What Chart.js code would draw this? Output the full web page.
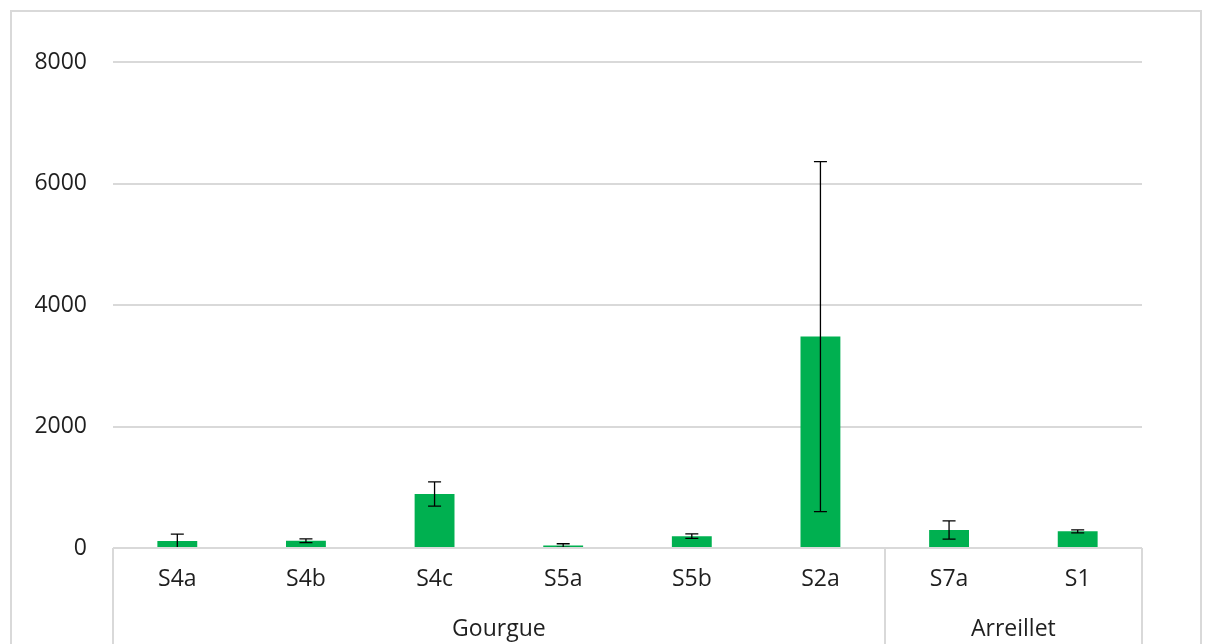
<!DOCTYPE html>
<html>
<head>
<meta charset="utf-8">
<script src="https://cdn.jsdelivr.net/npm/chart.js@4/dist/chart.umd.min.js"></script>
<style>
  html, body { margin:0; padding:0; background:#fff; overflow:hidden; }
  #wrap { position:relative; width:1205px; height:644px; }
  #frame { position:absolute; left:10px; top:10px; width:1192px; height:700px; border:2px solid #d9d9d9; box-sizing:border-box; }
  canvas { position:absolute; left:0; top:0; }
</style>
</head>
<body>
<div id="wrap">
  <div id="frame"></div>
  <canvas id="c" width="1205" height="644"></canvas>
</div>
<script>
const categories = ['S4a','S4b','S4c','S5a','S5b','S2a','S7a','S1'];
const groupNames = ['Gourgue','Arreillet'];
const groupSizes = [6, 2];
const values = [115, 120, 890, 40, 195, 3480, 295, 275];
const errors = [115, 30, 200, 30, 38, 2880, 150, 25];
const yTicks = [0, 2000, 4000, 6000, 8000];

const FONT = '"Open Sans", sans-serif';
const FSIZE = 23;
const TEXT = '#1f1f1f';
const GRID = '#d9d9d9';

const errorBars = {
  id: 'errorBars',
  afterDatasetsDraw(chart) {
    const ctx = chart.ctx, xs = chart.scales.x, ys = chart.scales.y;
    ctx.save();
    ctx.strokeStyle = '#000';
    ctx.lineWidth = 1.3;
    values.forEach((v, i) => {
      const x = xs.getPixelForValue(i);
      const yTop = ys.getPixelForValue(v + errors[i]);
      const yBot = ys.getPixelForValue(Math.max(v - errors[i], 0));
      ctx.beginPath();
      ctx.moveTo(x, yTop); ctx.lineTo(x, yBot);
      ctx.moveTo(x - 6.5, yTop); ctx.lineTo(x + 6.5, yTop);
      if (v - errors[i] > 0) { ctx.moveTo(x - 6.5, yBot); ctx.lineTo(x + 6.5, yBot); }
      ctx.stroke();
    });
    ctx.restore();
  }
};

const groupAxis = {
  id: 'groupAxis',
  afterDraw(chart) {
    const ctx = chart.ctx, xs = chart.scales.x, area = chart.chartArea;
    const bottom = chart.height + 5;
    ctx.save();
    ctx.strokeStyle = GRID;
    ctx.lineWidth = 2;
    let start = 0;
    const bounds = [area.left];
    groupSizes.forEach((n, g) => {
      const end = start + n - 1;
      const right = end < categories.length - 1
        ? (xs.getPixelForValue(end) + xs.getPixelForValue(end + 1)) / 2
        : area.right;
      bounds.push(right);
      const cx = (xs.getPixelForValue(start) + xs.getPixelForValue(end)) / 2;
      ctx.fillStyle = TEXT;
      ctx.font = FSIZE + 'px ' + FONT;
      ctx.textAlign = 'center';
      ctx.textBaseline = 'middle';
      ctx.fillText(groupNames[g], cx, 629);
      start += n;
    });
    bounds.forEach(b => {
      const x = Math.round(b);
      ctx.beginPath();
      ctx.moveTo(x, area.bottom);
      ctx.lineTo(x, bottom);
      ctx.stroke();
    });
    ctx.beginPath();
    ctx.moveTo(area.left, Math.round(area.bottom));
    ctx.lineTo(area.right, Math.round(area.bottom));
    ctx.stroke();
    ctx.restore();
  }
};

new Chart(document.getElementById('c'), {
  type: 'bar',
  data: {
    labels: categories,
    datasets: [{
      data: values,
      backgroundColor: '#00b050',
      borderWidth: 0,
      categoryPercentage: 1,
      barPercentage: 0.31
    }]
  },
  options: {
    responsive: false,
    animation: false,
    events: [],
    layout: { padding: { top: 62, right: 63, left: 0, bottom: 0 } },
    plugins: { legend: { display: false }, tooltip: { enabled: false } },
    scales: {
      x: {
        grid: { display: false, drawTicks: false },
        border: { display: false },
        ticks: { color: TEXT, font: { family: FONT, size: FSIZE }, padding: 18, maxRotation: 0 },
        afterFit(s) { s.height = 96; }
      },
      y: {
        min: 0, max: 8000,
        afterBuildTicks(s) { s.ticks = yTicks.map(v => ({ value: v })); },
        grid: { color: GRID, lineWidth: 2, drawTicks: false },
        border: { display: false },
        ticks: { color: TEXT, font: { family: FONT, size: FSIZE }, padding: 26, callback: v => String(v) },
        afterFit(s) { s.width = 113; }
      }
    }
  },
  plugins: [errorBars, groupAxis]
});
</script>
</body>
</html>
